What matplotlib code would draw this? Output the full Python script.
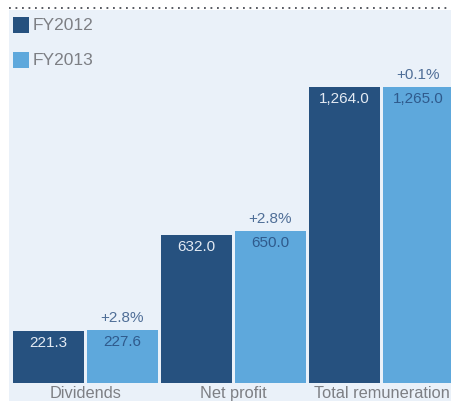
import matplotlib
matplotlib.use("Agg")
import matplotlib.pyplot as plt
from matplotlib.patches import Rectangle
from matplotlib.lines import Line2D

categories = ["Dividends", "Net profit", "Total remuneration"]
series_names = ["FY2012", "FY2013"]
fy2012 = [221.3, 632.0, 1264.0]
fy2013 = [227.6, 650.0, 1265.0]
changes = ["+2.8%", "+2.8%", "+0.1%"]

dark = "#26517f"
light = "#5ea8dc"
bg = "#eaf1f9"
grey = "#7d7f84"

W, H = 452, 401
fig = plt.figure(figsize=(W / 100, H / 100), dpi=100)
plt.rcParams["font.family"] = ["Liberation Sans", "DejaVu Sans"]

# panel background and dotted rule
fig.patches.append(Rectangle((9 / W, 0), 1 - 9 / W, 1 - 10 / H,
                             transform=fig.transFigure, facecolor=bg,
                             edgecolor="none", zorder=-10))
fig.lines.append(Line2D([9 / W, 447 / W], [1 - 7.5 / H, 1 - 7.5 / H],
                        transform=fig.transFigure, color="#4a4d55",
                        linestyle=(0, (1, 2.6)), linewidth=1.3, zorder=-5))

ax = fig.add_axes([0, 0, 1, 1])
ax.set_facecolor("none")
ax.axis("off")

pitch = 74.0
px_per_unit = 296 / 1264.0
base_px = 383
ax.set_xlim(-48.5 / pitch, (W - 48.5) / pitch)
ax.set_ylim(-(H - base_px) / px_per_unit, base_px / px_per_unit)

bw = 71 / pitch
u = 1 / px_per_unit  # data units per pixel
for i, (a, b) in enumerate(zip(fy2012, fy2013)):
    xa, xb = 2 * i, 2 * i + 1
    ax.bar(xa, a, width=bw, color=dark, zorder=2)
    ax.bar(xb, b, width=bw, color=light, zorder=2)
    ax.text(xa, a - 5 * u, f"{a:,.1f}", ha="center", va="top",
            fontsize=11, color="#e3eaf3", zorder=3)
    ax.text(xb, b - 5 * u, f"{b:,.1f}", ha="center", va="top",
            fontsize=11, color="#2f5a8c", zorder=3)
    ax.text(xb, b + 5 * u, changes[i], ha="center", va="bottom",
            fontsize=11, color="#4f6e97", zorder=3)
    ax.text(2 * i + 0.5, -3 * u, categories[i], ha="center", va="top",
            fontsize=11.8, color=grey, zorder=3)

# legend
for j, (name, col) in enumerate(zip(series_names, [dark, light])):
    top = 17 + 35 * j
    fig.patches.append(Rectangle((13 / W, 1 - (top + 16) / H), 16 / W, 16 / H,
                                 transform=fig.transFigure, facecolor=col,
                                 edgecolor="none", zorder=3))
    fig.text(33 / W, 1 - (top + 8.5) / H, name, ha="left", va="center",
             fontsize=12.5, color=grey)

fig.savefig("out.png", dpi=100, facecolor="white")
